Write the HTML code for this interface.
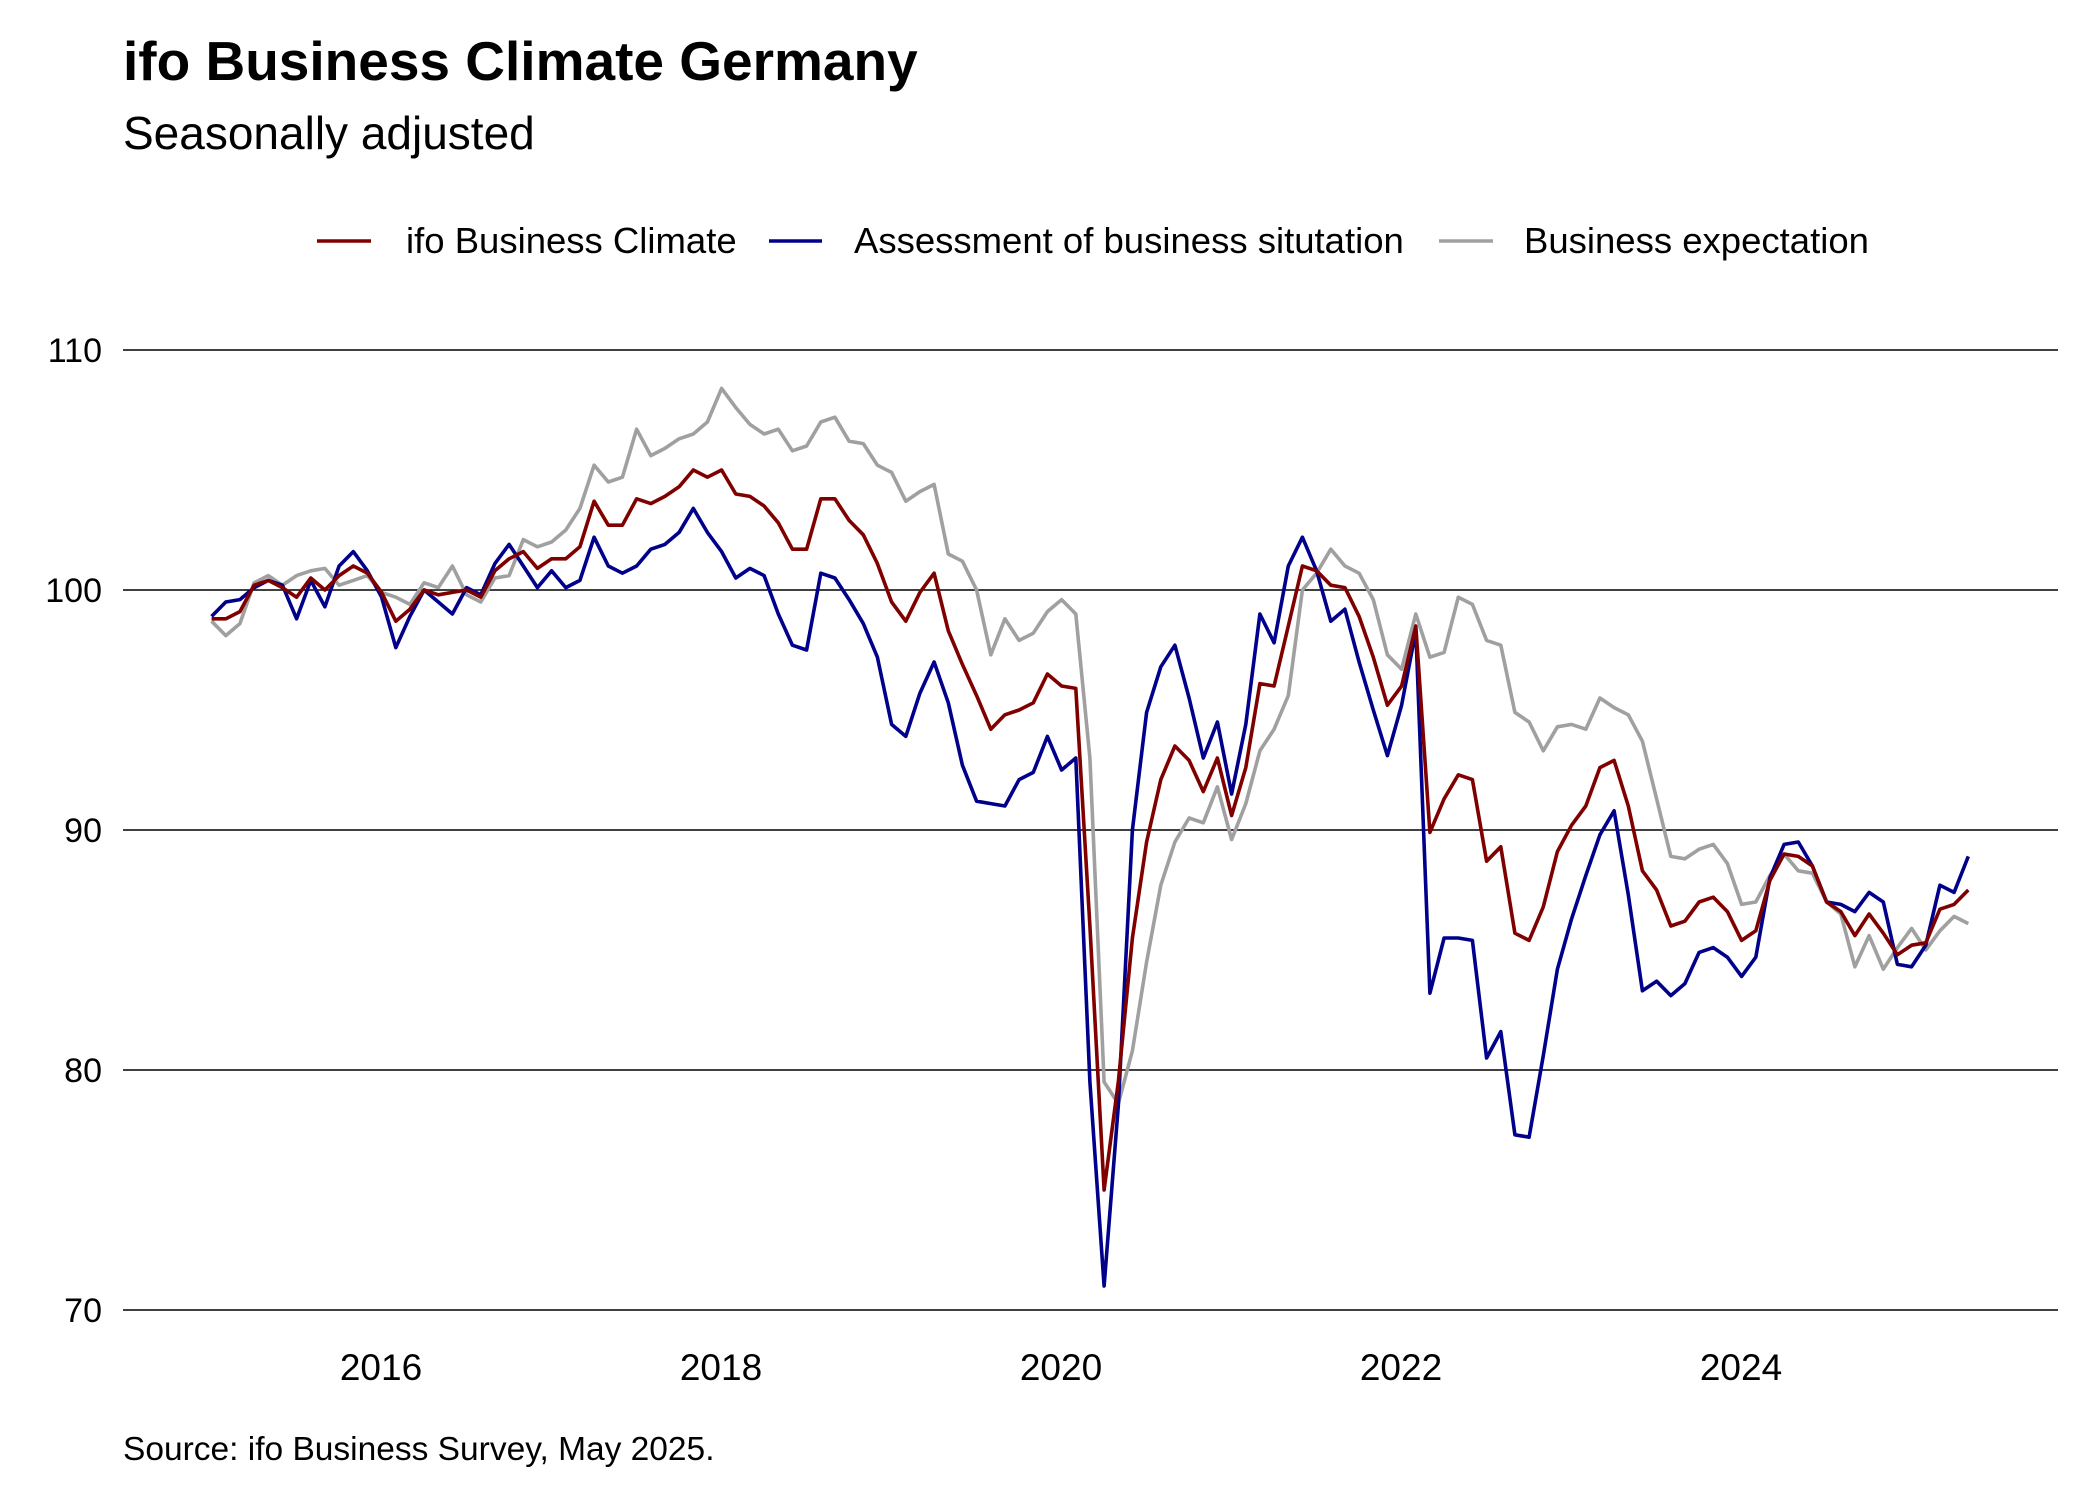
<!DOCTYPE html>
<html><head><meta charset="utf-8"><style>
html,body{margin:0;padding:0;background:#fff;}
svg{display:block;font-family:"Liberation Sans",Arial,sans-serif;}
</style></head><body>
<svg id="s" width="2100" height="1500" xmlns="http://www.w3.org/2000/svg">
<rect width="2100" height="1500" fill="#fff"/>
<text x="123" y="80" font-size="55" font-weight="bold" fill="#000">ifo Business Climate Germany</text>
<text x="123" y="149" font-size="46" fill="#000">Seasonally adjusted</text>
<g font-size="36.5" fill="#000">
<line x1="317" y1="241" x2="371" y2="241" stroke="#800000" stroke-width="3.6"/>
<text x="406" y="253">ifo Business Climate</text>
<line x1="769" y1="241" x2="822" y2="241" stroke="#00008B" stroke-width="3.6"/>
<text x="854" y="253">Assessment of business situtation</text>
<line x1="1439" y1="241" x2="1493" y2="241" stroke="#A0A0A0" stroke-width="3.6"/>
<text x="1524" y="253">Business expectation</text>
</g>
<g stroke="#000" stroke-width="1.5">
<line x1="123" y1="350" x2="2058" y2="350"/>
<line x1="123" y1="590" x2="2058" y2="590"/>
<line x1="123" y1="830" x2="2058" y2="830"/>
<line x1="123" y1="1070" x2="2058" y2="1070"/>
<line x1="123" y1="1310" x2="2058" y2="1310"/>
</g>
<g font-size="34" fill="#000" text-anchor="end">
<text x="102" y="362">110</text>
<text x="102" y="602">100</text>
<text x="102" y="842">90</text>
<text x="102" y="1082">80</text>
<text x="102" y="1322">70</text>
</g>
<g font-size="37" fill="#000" text-anchor="middle">
<text x="381" y="1380">2016</text>
<text x="721" y="1380">2018</text>
<text x="1061" y="1380">2020</text>
<text x="1401" y="1380">2022</text>
<text x="1741" y="1380">2024</text>
</g>
<text x="123" y="1460" font-size="33.5" fill="#000">Source: ifo Business Survey, May 2025.</text>
<g id="lines" fill="none" stroke-width="3.6" stroke-linejoin="round"></g>
</svg>
<script>
var C=[98.8,98.8,99.1,100.2,100.4,100.1,99.7,100.5,100.0,100.6,101.0,100.7,
99.9,98.7,99.2,100.0,99.8,99.9,100.0,99.7,100.8,101.3,101.6,100.9,
101.3,101.3,101.8,103.7,102.7,102.7,103.8,103.6,103.9,104.3,105.0,104.7,
105.0,104.0,103.9,103.5,102.8,101.7,101.7,103.8,103.8,102.9,102.3,101.1,
99.5,98.7,99.9,100.7,98.3,96.9,95.6,94.2,94.8,95.0,95.3,96.5,
96.0,95.9,86.0,75.0,79.5,85.5,89.5,92.1,93.5,92.9,91.6,93.0,
90.6,92.6,96.1,96.0,98.5,101.0,100.8,100.2,100.1,98.9,97.2,95.2,
96.0,98.5,89.9,91.3,92.3,92.1,88.7,89.3,85.7,85.4,86.8,89.1,
90.2,91.0,92.6,92.9,91.0,88.3,87.5,86.0,86.2,87.0,87.2,86.6,
85.4,85.8,87.9,89.0,88.9,88.5,87.0,86.6,85.6,86.5,85.7,84.8,
85.2,85.3,86.7,86.9,87.5];
var S=[98.9,99.5,99.6,100.1,100.4,100.2,98.8,100.4,99.3,101.0,101.6,100.8,
99.7,97.6,98.9,100.0,99.5,99.0,100.1,99.8,101.1,101.9,101.0,100.1,
100.8,100.1,100.4,102.2,101.0,100.7,101.0,101.7,101.9,102.4,103.4,102.4,
101.6,100.5,100.9,100.6,99.0,97.7,97.5,100.7,100.5,99.6,98.6,97.2,
94.4,93.9,95.7,97.0,95.3,92.7,91.2,91.1,91.0,92.1,92.4,93.9,
92.5,93.0,79.5,71.0,78.5,90.0,94.9,96.8,97.7,95.5,93.0,94.5,
91.5,94.4,99.0,97.8,101.0,102.2,100.8,98.7,99.2,97.0,95.0,93.1,
95.2,98.3,83.2,85.5,85.5,85.4,80.5,81.6,77.3,77.2,80.6,84.2,
86.3,88.1,89.8,90.8,87.3,83.3,83.7,83.1,83.6,84.9,85.1,84.7,
83.9,84.7,88.0,89.4,89.5,88.5,87.0,86.9,86.6,87.4,87.0,84.4,
84.3,85.2,87.7,87.4,88.9];
var E=[98.7,98.1,98.6,100.3,100.6,100.2,100.6,100.8,100.9,100.2,100.4,100.6,
99.9,99.7,99.4,100.3,100.1,101.0,99.8,99.5,100.5,100.6,102.1,101.8,
102.0,102.5,103.4,105.2,104.5,104.7,106.7,105.6,105.9,106.3,106.5,107.0,
108.4,107.6,106.9,106.5,106.7,105.8,106.0,107.0,107.2,106.2,106.1,105.2,
104.9,103.7,104.1,104.4,101.5,101.2,100.0,97.3,98.8,97.9,98.2,99.1,
99.6,99.0,93.0,79.5,78.6,80.8,84.5,87.7,89.5,90.5,90.3,91.8,
89.6,91.1,93.3,94.2,95.6,100.0,100.7,101.7,101.0,100.7,99.6,97.3,
96.7,99.0,97.2,97.4,99.7,99.4,97.9,97.7,94.9,94.5,93.3,94.3,
94.4,94.2,95.5,95.1,94.8,93.7,91.3,88.9,88.8,89.2,89.4,88.6,
86.9,87.0,88.1,89.0,88.3,88.2,87.0,86.5,84.3,85.6,84.2,85.1,
85.9,85.0,85.8,86.4,86.1];
var g=document.getElementById('lines');
function add(d,col){var p=d.map(function(v,i){return (211.6+i*170/12).toFixed(1)+','+(350+(110-v)*24).toFixed(1)}).join(' ');
var e=document.createElementNS('http://www.w3.org/2000/svg','polyline');e.setAttribute('points',p);e.setAttribute('stroke',col);g.appendChild(e);}
add(E,'#A0A0A0');add(S,'#00008B');add(C,'#800000');
</script>
</body></html>
